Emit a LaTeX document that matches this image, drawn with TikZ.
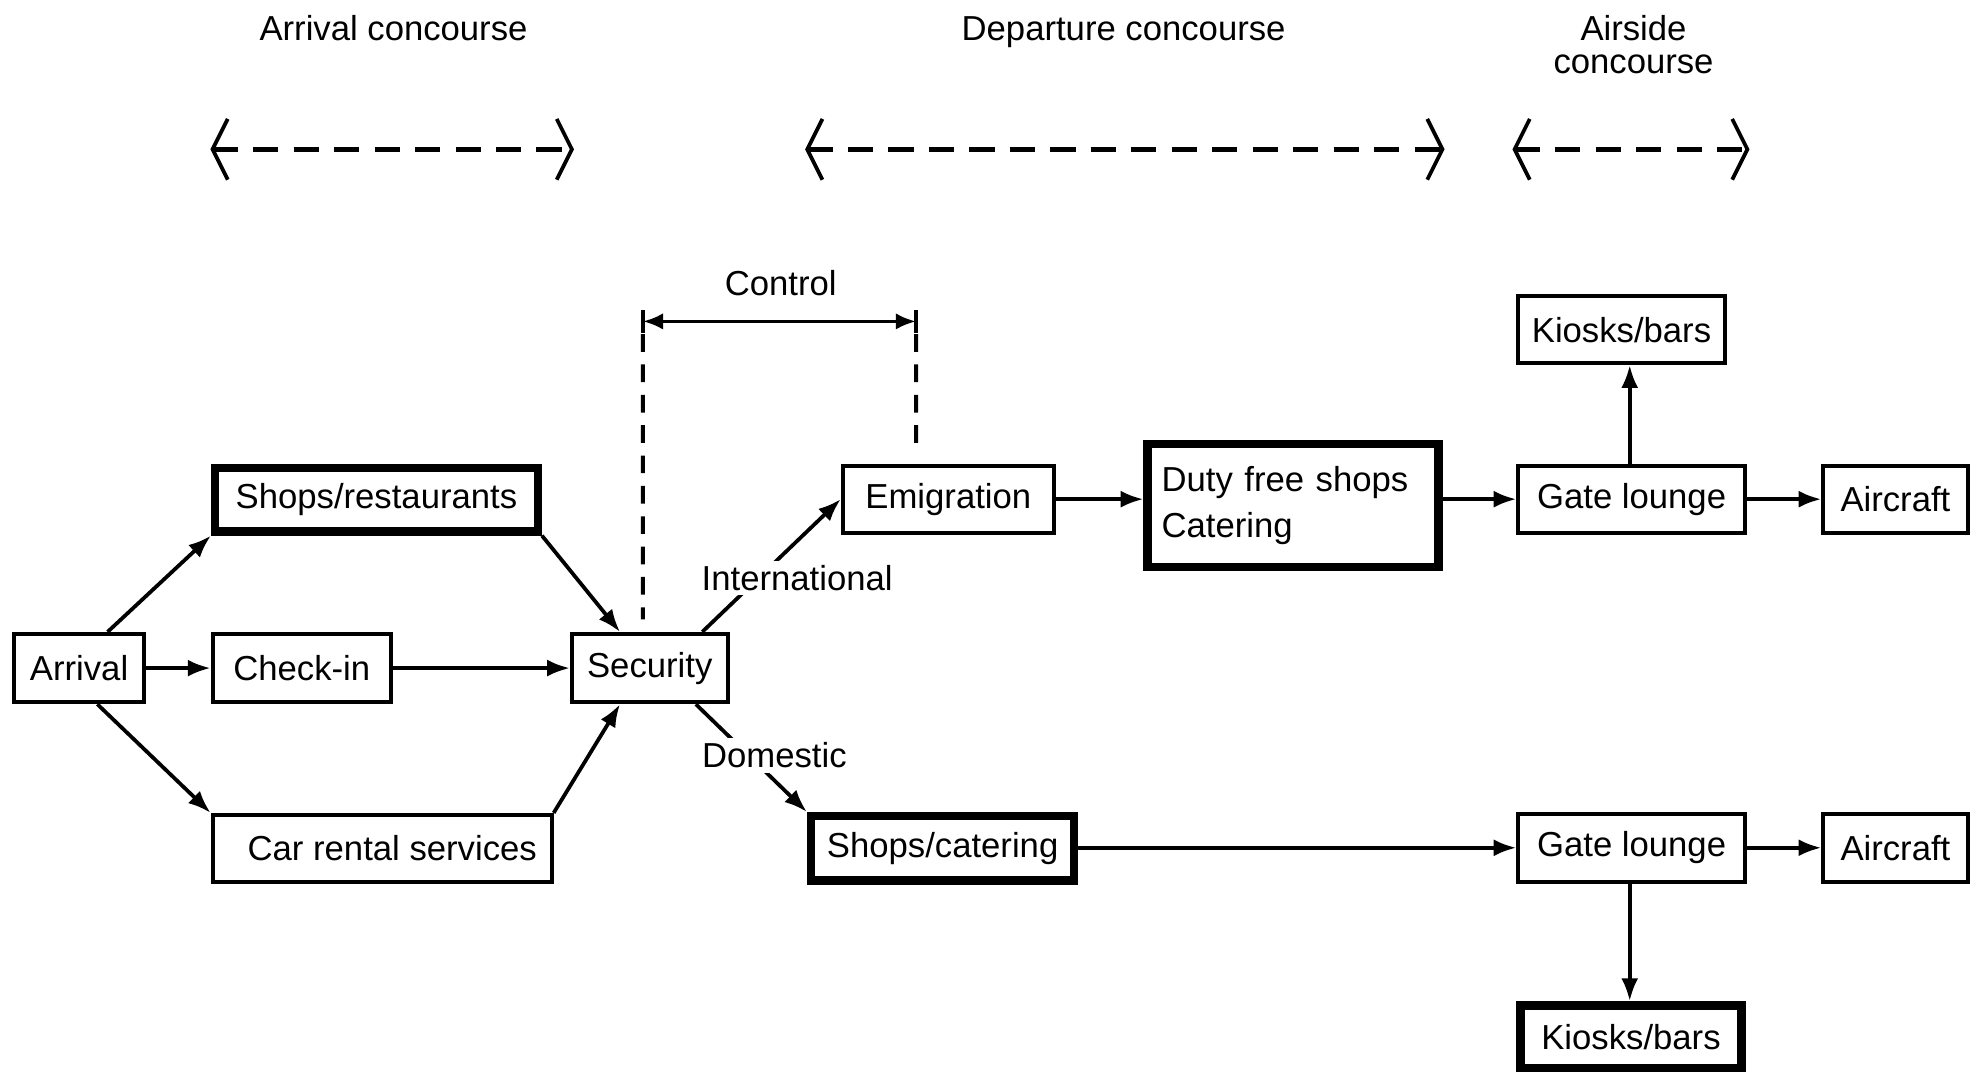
\documentclass[tikz,border=0pt]{standalone}
\usepackage{fontspec}
\setmainfont{Liberation Sans}
\usetikzlibrary{arrows.meta,calc}
\begin{document}
\begin{tikzpicture}[x=0.1mm,y=-0.1mm,
  txt/.style={font=\fontsize{7.8}{7.4}\selectfont, inner sep=0pt, align=center},
  box/.style={draw, line width=0.9pt, inner sep=0pt, font=\fontsize{7.8}{9}\selectfont},
  thickbox/.style={box, line width=1.9pt},
  conn/.style={line width=0.85pt, -{Latex[length=1.8mm,width=1.35mm]}},
  dashline/.style={line width=1.2pt, dash pattern=on 2mm off 1.2mm},
  chev/.style={line width=0.85pt},
  vdash/.style={line width=0.9pt, dash pattern=on 1.4mm off 1mm},
  lab/.style={font=\fontsize{7.8}{9}\selectfont, fill=white, inner sep=1pt}
]
\useasboundingbox (0,0) rectangle (1568,847);

% concourse labels
\node[txt, anchor=base] (lArr) at (311,32) {Arrival concourse};
\node[txt, anchor=base] (lDep) at (888,32) {Departure concourse};
\node[txt] (lAir) at (1291,35) {Airside\\concourse};

% concourse extents
\coordinate (a1) at (168,118); \coordinate (a2) at (452,118);
\coordinate (d1) at (638,118); \coordinate (d2) at (1140,118);
\coordinate (s1) at (1197,118); \coordinate (s2) at (1381,118);
\foreach \p/\q in {a1/a2,d1/d2,s1/s2}{
  \draw[dashline] (\p) -- (\q);
  \draw[chev] ($(\p)+(12,-24)$) -- (\p) -- ($(\p)+(12,24)$);
  \draw[chev] ($(\q)+(-12,-24)$) -- (\q) -- ($(\q)+(-12,24)$);
}

% boxes
\node[box, minimum width=10.3mm, minimum height=5.4mm] (arrival) at (62.5,528) {Arrival};
\node[box, minimum width=14.1mm, minimum height=5.4mm] (checkin) at (238.5,528) {Check-in};
\node[thickbox, minimum width=25.5mm, minimum height=5.0mm] (shopsr) at (297.5,395) {Shops/restaurants};
\node[box, minimum width=26.8mm, minimum height=5.3mm] (car) at (302,670.5) {\hspace{1.6mm}Car rental services};
\node[box, minimum width=12.3mm, minimum height=5.4mm] (security) at (513.5,528) {Security};
\node[box, minimum width=16.7mm, minimum height=5.3mm] (emig) at (749.5,394.5) {Emigration};
\node[thickbox, text width=20.8mm, inner xsep=1.1mm, align=left, minimum height=9.7mm,
      font=\fontsize{7.8}{10.5}\selectfont] (duty) at (1022,399.5) {Duty free shops\\Catering};
\node[box, minimum width=17.9mm, minimum height=5.3mm] (gate1) at (1289.5,394.5) {Gate lounge};
\node[box, minimum width=16.3mm, minimum height=5.3mm] (kiosk1) at (1281.5,260.5) {Kiosks/bars};
\node[box, minimum width=11.4mm, minimum height=5.3mm] (air1) at (1498,394.5) {Aircraft};
\node[thickbox, minimum width=20.8mm, minimum height=5.1mm] (shopsc) at (745,670.5) {Shops/catering};
\node[box, minimum width=17.9mm, minimum height=5.4mm] (gate2) at (1289.5,670) {Gate lounge};
\node[box, minimum width=11.4mm, minimum height=5.4mm] (air2) at (1498,670) {Aircraft};
\node[thickbox, minimum width=17.5mm, minimum height=5.0mm] (kiosk2) at (1289,819.5) {Kiosks/bars};

% connectors
\draw[conn] ([xshift=2.25mm]arrival.north) -- (shopsr.south west);
\draw[conn] (arrival) -- (checkin);
\draw[conn] ([xshift=1.45mm]arrival.south) -- (car.north west);
\draw[conn] (shopsr.south east) -- ([xshift=-2.35mm]security.north);
\draw[conn] (checkin) -- (security);
\draw[conn] (car.north east) -- ([xshift=-2.35mm]security.south);
\draw[conn] ([xshift=4.15mm]security.north) -- (emig.west);
\draw[conn] ([xshift=3.65mm]security.south) -- (shopsc.north west);
\draw[conn] (emig.east) -- (emig.east -| duty.west);
\draw[conn] (duty.east |- gate1.west) -- (gate1.west);
\draw[conn] ([xshift=-0.15mm]gate1.north) -- ([xshift=-0.15mm]gate1.north |- kiosk1.south);
\draw[conn] (gate1) -- (air1);
\draw[conn] (shopsc.east |- gate2.west) -- (gate2.west);
\draw[conn] (gate2) -- (air2);
\draw[conn] ([xshift=-0.15mm]gate2.south) -- ([xshift=-0.15mm]gate2.south |- kiosk2.north);

% route labels
\node[lab] (intl) at (630,457) {International};
\node[lab] (dom) at (612,597) {Domestic};

% control
\node[txt] (ctrl) at (617,224) {Control};
\coordinate (cL) at (508,254);
\coordinate (cR) at (724,254);
\draw[line width=0.85pt, {Latex[length=1.6mm,width=1.3mm]}-{Latex[length=1.6mm,width=1.3mm]}] (cL) -- (cR);
\draw[line width=0.9pt] ($(cL)+(0,-9)$) -- ($(cL)+(0,9)$);
\draw[line width=0.9pt] ($(cR)+(0,-9)$) -- ($(cR)+(0,9)$);
\draw[vdash] ($(cL)+(0,10)$) -- ([xshift=-0.55mm,yshift=1mm]security.north);
\draw[vdash] ($(cR)+(0,10)$) -- ([xshift=-2.55mm,yshift=0.7mm]emig.north);
\end{tikzpicture}
\end{document}
